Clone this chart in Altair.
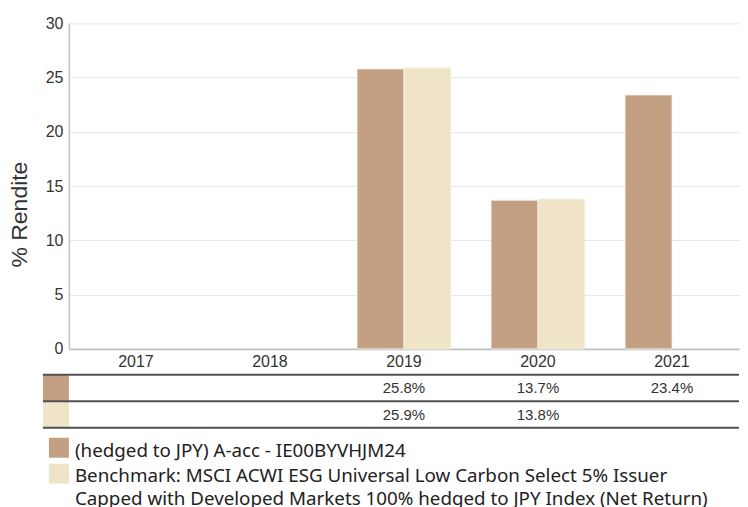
import altair as alt
import pandas as pd

years = ["2017", "2018", "2019", "2020", "2021"]
keys = ["fund", "bench"]
legend_labels = [
    "(hedged to JPY) A-acc - IE00BYVHJM24",
    "Benchmark: MSCI ACWI ESG Universal Low Carbon Select 5% Issuer\nCapped with Developed Markets 100% hedged to JPY Index (Net Return)",
]
fund_values = [None, None, 25.8, 13.7, 23.4]
bench_values = [None, None, 25.9, 13.8, None]
colors = ["#c4a082", "#efe3c8"]
y_ticks = [0, 5, 10, 15, 20, 25, 30]

rows = []
for key, vals in zip(keys, [fund_values, bench_values]):
    for yr, v in zip(years, vals):
        if v is not None:
            rows.append({"year": yr, "key": key, "value": v, "text": f"{v:.1f}%"})
df = pd.DataFrame(rows)
keys_df = pd.DataFrame({"key": keys, "label": legend_labels})

W = 671
TH = 53
AX = "Liberation Sans"
LEG = "Noto Sans"

xscale = alt.Scale(domain=years, paddingInner=0.3, paddingOuter=0.15)
cscale = alt.Scale(domain=keys, range=colors)

bars = alt.Chart(df).mark_bar(stroke="#f8f4ee", strokeWidth=0.8).encode(
    x=alt.X("year:N", scale=xscale, sort=years,
            axis=alt.Axis(title=None, labelAngle=0, ticks=False, tickSize=0,
                          domainColor="#c0c0c0", domainWidth=2, labelFontSize=16,
                          labelColor="#333333", labelFont=AX, labelPadding=5, grid=False)),
    xOffset=alt.XOffset("key:N", scale=alt.Scale(domain=keys, paddingInner=0)),
    y=alt.Y("value:Q", scale=alt.Scale(domain=[0, 30]),
            axis=alt.Axis(values=y_ticks, title="% Rendite", titleFontSize=23,
                          titleFont=AX, titleFontWeight="normal", titleColor="#333333",
                          titlePadding=14, titleY=191, ticks=False, tickSize=0,
                          labelFontSize=16, labelFont=AX, labelColor="#333333",
                          labelPadding=6, domainColor="#c0c0c0", domainWidth=1.5,
                          gridColor="#e6e6e6", gridWidth=1)),
    color=alt.Color("key:N", scale=cscale, legend=None),
).properties(width=W, height=326)

yrow = alt.Scale(domain=keys, paddingInner=0, paddingOuter=0)

table_text = alt.Chart(df).mark_text(fontSize=15, font=AX, color="#333333").encode(
    x=alt.X("year:N", scale=xscale, axis=None),
    y=alt.Y("key:N", scale=yrow, axis=None),
    text="text:N",
)
swatch = alt.Chart(keys_df).mark_rect().encode(
    x=alt.value(-26), x2=alt.value(0),
    y=alt.Y("key:N", scale=yrow, axis=None),
    color=alt.Color("key:N", scale=cscale, legend=None),
)
row_rules = alt.Chart(keys_df).mark_rule(color="#505050", strokeWidth=2).encode(
    x=alt.value(-26), x2=alt.value(W),
    y=alt.Y("key:N", scale=yrow, axis=None, bandPosition=0),
)
bottom_rule = alt.Chart(keys_df.head(1)).mark_rule(color="#505050", strokeWidth=2).encode(
    x=alt.value(-26), x2=alt.value(W), y=alt.value(TH),
)

leg_layers = []
sw_pos = [(63, 83), (89, 109)]
txt_pos = [67, 92]
for i, key in enumerate(keys):
    sub = keys_df[keys_df["key"] == key]
    leg_layers.append(
        alt.Chart(sub).mark_rect().encode(
            x=alt.value(-20), x2=alt.value(0),
            y=alt.value(sw_pos[i][0]), y2=alt.value(sw_pos[i][1]),
            color=alt.Color("key:N", scale=cscale, legend=None),
        )
    )
    leg_layers.append(
        alt.Chart(sub).mark_text(align="left", baseline="top", fontSize=18.8, font=LEG,
                                 color="#222222", lineBreak="\n", lineHeight=23).encode(
            x=alt.value(6), y=alt.value(txt_pos[i]), text="label:N",
        )
    )

lower = alt.layer(swatch, row_rules, bottom_rule, table_text, *leg_layers).properties(
    width=W, height=TH
)

chart = alt.vconcat(bars, lower, spacing=4).properties(
    padding={"top": 7, "left": 0, "right": 0, "bottom": 0}
).configure_view(stroke=None).configure_concat(spacing=4)

chart.save("out.html", embed_options={"renderer": "svg", "actions": False})
